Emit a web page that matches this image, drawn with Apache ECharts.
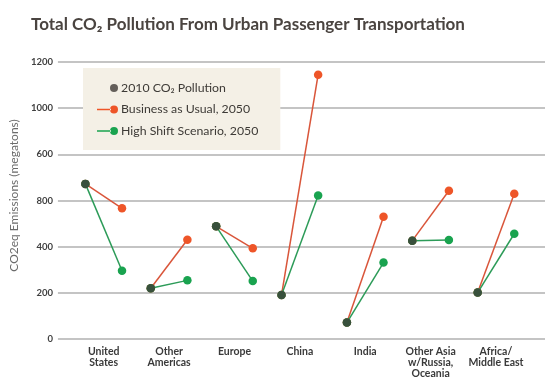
<!DOCTYPE html>
<html><head><meta charset="utf-8">
<script src="https://cdn.jsdelivr.net/npm/echarts@6/dist/echarts.min.js"></script>
<style>html,body{margin:0;padding:0;background:#fff}#c{width:550px;height:380px}</style>
</head><body><div id="c"></div>
<script>
const categories = ['United\nStates','Other\nAmericas','Europe','China','India','Other Asia\nw/Russia,\nOceania','Africa/\nMiddle East'];
const pollution2010 = [672,220,488,191,71,426,201];
const businessAsUsual2050 = [566,430,393,1145,530,642,629];
const highShift2050 = [296,254,251,622,331,429,456];
const yTickLabels = ['0','200','400','800','600','1000','1200'];

const OFF = 0.28;
const C_DARK = '#403b37', C_OR = '#ee5528', C_OR_L = '#d9553a', C_GR = '#19a34f', C_GR_L = '#2c9b58';
const NAME0 = '2010 CO\u2082 Pollution', NAME1 = 'Business as Usual, 2050', NAME2 = 'High Shift Scenario, 2050';

const series = [];
categories.forEach((c, i) => {
  series.push({
    name: NAME1, type: 'line', z: 2, symbol: 'circle', symbolSize: 8.5, showSymbol: true,
    itemStyle: {color: C_OR}, lineStyle: {color: C_OR_L, width: 1.5},
    emphasis: {disabled: true},
    data: [[i - OFF, pollution2010[i]], [i + OFF, businessAsUsual2050[i]]]
  });
  series.push({
    name: NAME2, type: 'line', z: 2, symbol: 'circle', symbolSize: 8.5, showSymbol: true,
    itemStyle: {color: C_GR}, lineStyle: {color: C_GR_L, width: 1.5},
    emphasis: {disabled: true},
    data: [[i - OFF, pollution2010[i]], [i + OFF, highShift2050[i]]]
  });
});
series.push({
  name: NAME0, type: 'scatter', z: 5, symbol: 'circle', symbolSize: 8.5,
  itemStyle: {color: C_DARK}, emphasis: {disabled: true},
  data: pollution2010.map((v, i) => [i - OFF, v])
});

const lineDot = 'path://M0,4.25 L14,4.25 L14,5.75 L0,5.75 Z M13,5 A4,4 0 1,0 21,5 A4,4 0 1,0 13,5 Z';
const dotOnly = 'path://M0,5 M13,5 A4,4 0 1,0 21,5 A4,4 0 1,0 13,5 Z';

const chart = echarts.init(document.getElementById('c'), null, {renderer: 'canvas'});
chart.setOption({
  animation: false,
  backgroundColor: '#fff',
  title: {
    text: 'Total CO\u2082 Pollution From Urban Passenger Transportation',
    left: 26, top: 11,
    textStyle: {fontFamily: 'Lato', fontWeight: 'bold', fontSize: 17, color: '#4a4440'}
  },
  legend: {
    orient: 'vertical', left: 83, top: 68,
    padding: [13, 22, 12, 14],
    backgroundColor: '#f4f0e6',
    itemWidth: 21, itemHeight: 8, itemGap: 7.5,
    itemStyle: {borderWidth: 0},
    lineStyle: {width: 0},
    textStyle: {fontFamily: 'Lato', fontSize: 12.3, color: '#3d3a36', lineHeight: 14, padding: [0, 0, 0, -2]},
    data: [{name: NAME0, icon: dotOnly}, {name: NAME1, icon: lineDot}, {name: NAME2, icon: lineDot}]
  },
  grid: {left: 53, right: 5, top: 62, bottom: 41},
  xAxis: {
    type: 'value', min: -0.7, max: 6.75,
    splitLine: {show: false}, axisLine: {show: false}, axisTick: {show: false},
    axisLabel: {
      customValues: categories.map((c, i) => i),
      formatter: v => categories[Math.round(v)] || '',
      fontFamily: 'Lato', fontWeight: 'bold', fontSize: 10.5, color: '#3a3a3a', lineHeight: 11, margin: 7
    }
  },
  yAxis: {
    type: 'value', min: 0, max: 1200, interval: 200,
    name: 'CO2eq Emissions (megatons)', nameLocation: 'middle', nameGap: 33, nameRotate: 90,
    nameTextStyle: {fontFamily: 'Lato', fontSize: 12, color: '#6b6b6b', padding: [0, 0, 0, 10]},
    axisLine: {show: false}, axisTick: {show: false},
    splitLine: {lineStyle: {color: '#b0b0b0', width: 1.5}},
    axisLabel: {
      formatter: v => yTickLabels[Math.round(v / 200)],
      fontFamily: 'Lato', fontWeight: 'bold', fontSize: 9.5, color: '#3f3f3f', margin: 5
    }
  },
  series: series
});
</script>
</body></html>
